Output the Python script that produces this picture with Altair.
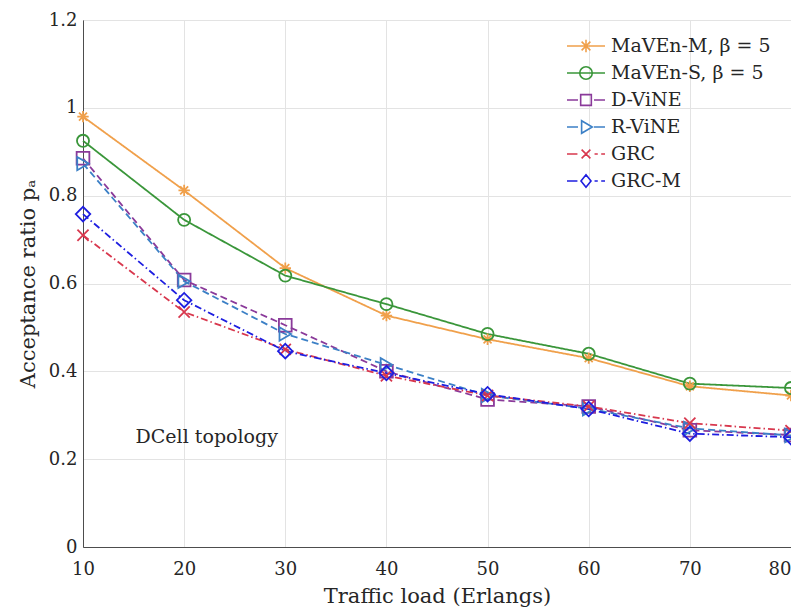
import altair as alt
import pandas as pd

# ---- data ----
loads = [10, 20, 30, 40, 50, 60, 70, 80]
series_names = ["MaVEn-M, β = 5", "MaVEn-S, β = 5", "D-ViNE", "R-ViNE", "GRC", "GRC-M"]
maven_m = [0.980, 0.812, 0.635, 0.527, 0.473, 0.430, 0.366, 0.345]
maven_s = [0.925, 0.745, 0.618, 0.553, 0.485, 0.440, 0.372, 0.362]
d_vine = [0.885, 0.608, 0.505, 0.400, 0.336, 0.320, 0.266, 0.255]
r_vine = [0.873, 0.605, 0.485, 0.415, 0.345, 0.315, 0.270, 0.254]
grc = [0.710, 0.535, 0.450, 0.390, 0.345, 0.320, 0.282, 0.265]
grc_m = [0.758, 0.562, 0.446, 0.396, 0.348, 0.314, 0.258, 0.250]
values = [maven_m, maven_s, d_vine, r_vine, grc, grc_m]

colors = ["#F0A04B", "#3A963A", "#8A3A9A", "#3C80C6", "#D8384E", "#1E1EE0"]
dashes = [[1, 0], [1, 0], [7, 4], [7, 4], [7, 3, 1.5, 3], [7, 3, 1.5, 3]]
widths = [1.8, 1.8, 2.6, 2.6, 1.8, 2.2]

star = "M-1,0L1,0M0,-1L0,1M-0.7,-0.7L0.7,0.7M-0.7,0.7L0.7,-0.7"
xmark = "M-0.8,-0.8L0.8,0.8M-0.8,0.8L0.8,-0.8"
shapes = [star, "circle", "square", "triangle-right", xmark, "diamond"]
sizes = [130, 210, 140, 170, 110, 190]

# legend symbols: line sample + marker, in unit coordinates (scaled by S)
S = 1.9
k = 0.33


def seg(parts):
    return "".join(f"M{a*S:.3f},0L{b*S:.3f},0" for a, b in parts)


def poly(pts):
    return "M" + "L".join(f"{x*S:.3f},{y*S:.3f}" for x, y in pts) + "Z"


def lines_path(pairs):
    return "".join(f"M{a*S:.3f},{b*S:.3f}L{c*S:.3f},{d*S:.3f}" for a, b, c, d in pairs)


solid = seg([(-1, 1)])
dashed = seg([(-1, -0.42), (0.42, 1)])
dashdot = seg([(-1, -0.45), (0.45, 0.62), (0.8, 1)])
d7 = 0.7 * k
r = k * S
leg_markers = [
    lines_path([(-k, 0, k, 0), (0, -k, 0, k), (-d7, -d7, d7, d7), (-d7, d7, d7, -d7)]),
    f"M-{r:.3f},0A{r:.3f},{r:.3f} 0 1 0 {r:.3f},0A{r:.3f},{r:.3f} 0 1 0 -{r:.3f},0Z",
    poly([(-0.85 * k, -0.85 * k), (0.85 * k, -0.85 * k), (0.85 * k, 0.85 * k), (-0.85 * k, 0.85 * k)]),
    poly([(-d7, -k), (k, 0), (-d7, k)]),
    lines_path([(-d7, -d7, d7, d7), (-d7, d7, d7, -d7)]),
    poly([(-0.8 * k, 0), (0, -k), (0.8 * k, 0), (0, k)]),
]
leg_lines = [solid, solid, dashed, dashed, dashdot, dashdot]
leg_paths = [l + m for l, m in zip(leg_lines, leg_markers)]

note_x = [15.2]
note_y = [0.25]
note_text = ["DCell topology"]

rows = []
for name, vals in zip(series_names, values):
    for x, y in zip(loads, vals):
        rows.append({"load": x, "ratio": y, "series": name})
df = pd.DataFrame(rows)

FONT = "DejaVu Serif"

x_enc = alt.X("load:Q", scale=alt.Scale(domain=[10, 80], nice=False),
              axis=alt.Axis(values=loads, title="Traffic load (Erlangs)", format="d",
                            labelAlign=alt.condition("datum.value >= 80", alt.value("right"), alt.value("center"))))
y_enc = alt.Y("ratio:Q", scale=alt.Scale(domain=[0, 1.2], nice=False),
              axis=alt.Axis(values=[0, 0.2, 0.4, 0.6, 0.8, 1.0, 1.2], format="~g",
                            title="Acceptance ratio pₐ"))

dom = series_names

lines = alt.Chart(df).mark_line().encode(
    x=x_enc, y=y_enc,
    color=alt.Color("series:N", scale=alt.Scale(domain=dom, range=colors), legend=None),
    strokeDash=alt.StrokeDash("series:N", scale=alt.Scale(domain=dom, range=dashes), legend=None),
    strokeWidth=alt.StrokeWidth("series:N", scale=alt.Scale(domain=dom, range=widths), legend=None),
    order=alt.Order("load:Q"),
)

points = alt.Chart(df).mark_point(filled=False, strokeWidth=1.8, opacity=1).encode(
    x="load:Q", y="ratio:Q",
    color=alt.Color("series:N", scale=alt.Scale(domain=dom, range=colors), legend=None),
    shape=alt.Shape("series:N", scale=alt.Scale(domain=dom, range=shapes), legend=None),
    size=alt.Size("series:N", scale=alt.Scale(domain=dom, range=sizes), legend=None),
)

legend_layer = alt.Chart(df).transform_filter("false").transform_calculate(
    lab="datum.series"
).mark_point(filled=False, strokeWidth=1.6, opacity=1).encode(
    x="load:Q", y="ratio:Q",
    color=alt.Color("lab:N", scale=alt.Scale(domain=dom, range=colors),
                    legend=alt.Legend(title=None, orient="none", legendX=492, legendY=15,
                                      symbolSize=400, labelFontSize=19, labelFont=FONT,
                                      labelColor="#262626", labelOffset=14, rowPadding=6,
                                      symbolStrokeWidth=1.6, symbolFillColor="transparent")),
    shape=alt.Shape("lab:N", scale=alt.Scale(domain=dom, range=leg_paths)),
)

note = alt.Chart(pd.DataFrame({"x": note_x, "y": note_y, "t": note_text})).mark_text(
    align="left", baseline="middle", font=FONT, fontSize=19, color="#262626"
).encode(x="x:Q", y="y:Q", text="t:N")

chart = alt.layer(lines, points, legend_layer, note).resolve_scale(
    color="independent", shape="independent"
).properties(
    width=708, height=527,
    autosize=alt.AutoSizeParams(type="none"),
    padding={"left": 75, "top": 12, "right": 0, "bottom": 60},
).configure_view(stroke="#4d4d4d", strokeWidth=1).configure_axis(
    labelFont=FONT, titleFont=FONT, labelFontSize=18, titleFontSize=21,
    labelColor="#262626", titleColor="#262626", titleFontWeight="normal",
    domainColor="#4d4d4d", tickColor="#4d4d4d", tickSize=0,
    gridColor="#e3e3e3", gridWidth=1,
).configure_axisX(labelPadding=13, titlePadding=7).configure_axisY(labelPadding=6, titlePadding=10)

chart.save("out.html", embed_options={"renderer": "svg", "actions": False})
